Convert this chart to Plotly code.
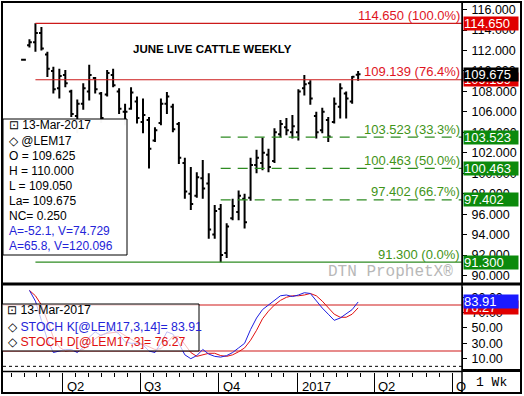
import plotly.graph_objects as go
import pandas as pd

# ---------------- data ----------------
opens = [111.10, 112.50, 112.80, 113.70, 111.60, 110.00, 108.30, 109.60, 108.00, 105.60,
         106.80, 108.00, 109.30, 107.80, 107.70, 109.60, 108.00, 106.00, 106.30, 107.00,
         105.00, 105.20, 103.20, 104.90, 106.80, 106.50, 104.80, 101.00, 98.00, 97.80,
         99.50, 99.00, 94.00, 96.50, 92.20, 95.60, 96.20, 97.50, 97.60, 100.80,
         101.00, 101.80, 101.20, 103.80, 104.50, 104.00, 104.00, 108.30, 108.80, 105.60,
         104.20, 105.20, 105.00, 106.50, 107.80, 107.00, 109.625]
highs = [111.10, 113.10, 114.65, 114.30, 111.87, 110.40, 110.20, 110.10, 108.16, 107.20,
         108.80, 110.60, 109.40, 107.95, 110.10, 110.20, 108.30, 106.80, 108.40, 107.50,
         107.30, 105.50, 104.50, 107.30, 107.95, 106.80, 105.00, 101.50, 100.60, 100.10,
         101.30, 100.00, 96.90, 97.00, 95.10, 97.50, 98.30, 98.00, 101.50, 102.30,
         103.50, 102.40, 104.40, 105.20, 105.40, 105.70, 108.20, 109.60, 109.10, 106.00,
         106.40, 105.50, 107.40, 108.80, 108.00, 109.50, 110.00]
lows = [111.10, 112.30, 111.87, 112.00, 109.40, 107.80, 107.30, 108.40, 105.50, 103.90,
        106.20, 107.10, 107.80, 104.90, 107.50, 108.40, 105.80, 104.70, 106.20, 104.85,
        103.90, 100.45, 103.05, 104.70, 105.80, 104.00, 100.90, 97.50, 96.40, 97.60,
        97.50, 93.60, 93.60, 91.30, 91.70, 95.40, 95.40, 94.60, 97.30, 100.00,
        100.30, 100.10, 101.00, 103.50, 103.70, 103.40, 103.20, 107.60, 106.70, 103.40,
        103.90, 103.05, 104.85, 105.35, 105.35, 106.80, 109.05]
closes = [111.10, 112.80, 113.70, 112.20, 110.20, 108.20, 109.50, 108.80, 105.80, 106.80,
          108.30, 109.60, 108.20, 105.40, 109.80, 108.60, 106.30, 106.00, 107.90, 105.40,
          105.70, 102.40, 104.20, 106.80, 107.50, 104.30, 101.50, 98.20, 97.00, 99.60,
          98.50, 94.50, 96.30, 92.00, 94.80, 96.80, 97.80, 95.20, 100.80, 101.50,
          102.00, 100.60, 104.00, 104.80, 104.20, 104.60, 108.00, 108.70, 107.30, 104.00,
          106.00, 103.60, 106.80, 108.30, 107.30, 109.425, 109.675]

stoch_k = [None, 99, 85, 60, 35, 18, 20, 22, 22, 18,
           25, 38, 45, 40, 44, 48, 42, 32, 30, 30,
           28, 20, 18, 30, 45, 42, 30, 15, 10, 14,
           22, 16, 13, 12, 14, 18, 24, 30, 48, 63,
           74, 80, 85, 92, 93, 91, 93, 96, 95, 85,
           76, 68, 60, 63, 68, 74, 83.91]
stoch_d = [None, 99, 92, 80, 60, 38, 25, 20, 21, 20,
           22, 28, 36, 41, 43, 44, 45, 40, 35, 31,
           29, 26, 22, 23, 31, 39, 39, 29, 18, 13,
           15, 17, 17, 14, 13, 15, 19, 24, 34, 47,
           62, 72, 80, 86, 90, 92, 92, 93, 95, 92,
           85, 76, 68, 64, 64, 68, 76.27]

last_date = "2017-03-13"
dates = pd.date_range(end=last_date, periods=len(closes), freq="7D")

fib_levels = [114.650, 109.139, 103.523, 100.463, 97.402, 91.300]
fib_pcts = ["100.0%", "76.4%", "33.3%", "50.0%", "66.7%", "0.0%"]
fib_from_high = [True, True, False, False, False, True]
high_idx = 2
low_idx = 33

price_ticks = [90, 92, 94, 96, 98, 100, 102, 104, 106, 108, 110, 112, 114, 116]
stoch_ticks = [10, 30, 50, 70, 90]
stoch_bands = [80, 20]

quarter_dates = ["2016-04-01", "2016-07-01", "2016-10-01", "2017-01-01", "2017-04-01", "2017-07-01"]
quarter_labels = ["Q2", "Q3", "Q4", "2017", "Q2", "Q"]

info_lines = ["⊡ 13-Mar-2017", "◇ @LEM17", "O = 109.625", "H = 110.000", "L = 109.050",
              "La= 109.675", "NC= 0.250"]
info_blue = ["A=-52.1, V=74.729", "A=65.8, V=120.096"]
last_price = 109.675

# ---------------- layout geometry ----------------
W, H = 524, 396
PL, PR, PT, PB = 3, 462, 3, 372
x_start = "2016-01-22"
x_end = "2017-07-12 16:00"

def px(v):
    return (v - PL) / (PR - PL)

def py(v):
    return (PB - v) / (PB - PT)

FONT = "Liberation Sans, Arial, sans-serif"
MONO = "Liberation Mono, Courier New, monospace"
RED_LINE = "#cc1a1a"
RED_TXT = "#e0141e"
GREEN_LINE = "#2e8b22"
GREEN_TXT = "#3f9418"
GREEN_TAG = "#0c8a0c"
BLUE = "#2424d8"

fig = go.Figure()

fig.add_trace(go.Ohlc(
    x=dates, open=opens, high=highs, low=lows, close=closes,
    increasing=dict(line=dict(color="black", width=2)),
    decreasing=dict(line=dict(color="black", width=2)),
    tickwidth=0.4, xaxis="x", yaxis="y", hoverinfo="skip", showlegend=False,
))

for lvl, from_high in zip(fib_levels, fib_from_high):
    color = RED_LINE if lvl >= 109 else GREEN_LINE
    dash = "solid" if from_high else "10px,7px"
    start = dates[high_idx] if from_high else dates[low_idx]
    fig.add_trace(go.Scatter(
        x=[start, x_end], y=[lvl, lvl], mode="lines",
        line=dict(color=color, width=1.2, dash=dash),
        xaxis="x", yaxis="y", hoverinfo="skip", showlegend=False,
    ))

for lvl in stoch_bands:
    fig.add_trace(go.Scatter(
        x=[x_start, x_end], y=[lvl, lvl], mode="lines",
        line=dict(color="#d01818", width=1.2),
        xaxis="x", yaxis="y2", hoverinfo="skip", showlegend=False,
    ))
fig.add_trace(go.Scatter(
    x=[x_start, x_end], y=[0, 0], mode="lines",
    line=dict(color="black", width=1, dash="3px,3px"),
    xaxis="x", yaxis="y2", hoverinfo="skip", showlegend=False,
))
fig.add_trace(go.Scatter(
    x=dates, y=stoch_d, mode="lines", line=dict(color="#e01010", width=1),
    xaxis="x", yaxis="y2", hoverinfo="skip", showlegend=False,
))
fig.add_trace(go.Scatter(
    x=dates, y=stoch_k, mode="lines", line=dict(color="#1e1ee0", width=1),
    xaxis="x", yaxis="y2", hoverinfo="skip", showlegend=False,
))

minor_vals = []
for m in pd.date_range("2016-01-01", "2017-08-01", freq="MS"):
    for d in (m, m + pd.Timedelta(days=15)):
        s = d.strftime("%Y-%m-%d")
        if s not in quarter_dates:
            minor_vals.append(s)

fig.update_layout(
    width=W, height=H,
    margin=dict(l=PL, r=W - PR, t=PT, b=H - PB),
    paper_bgcolor="white", plot_bgcolor="white",
    font=dict(family=FONT, color="black", size=12),
    showlegend=False,
    xaxis=dict(
        type="date", range=[x_start, x_end], anchor="y2",
        showgrid=False, zeroline=False, showline=False,
        tickmode="array", tickvals=quarter_dates, ticktext=["" for _ in quarter_dates],
        ticks="outside", ticklen=20, tickcolor="black", tickwidth=1,
        minor=dict(tickmode="array", tickvals=minor_vals, ticks="outside",
                   ticklen=4, tickcolor="black", tickwidth=1, showgrid=False),
        rangeslider=dict(visible=False), fixedrange=True,
    ),
    yaxis=dict(
        domain=[py(284.5), 1], range=[89.12, 116.64], side="right", anchor="x",
        showgrid=False, zeroline=False, showline=True, linecolor="black", linewidth=1,
        tickmode="array", tickvals=price_ticks,
        ticktext=[f"{v:.3f}" for v in price_ticks],
        ticks="outside", ticklen=4, tickcolor="black",
        tickfont=dict(size=12.5, family=FONT), ticklabelstandoff=2,
    ),
    yaxis2=dict(
        domain=[0, py(286.5)], range=[-7.4, 104.1], side="right", anchor="x",
        showgrid=False, zeroline=False, showline=True, linecolor="black", linewidth=1,
        tickmode="array", tickvals=stoch_ticks,
        ticktext=[f"{v:.2f}" for v in stoch_ticks],
        ticks="outside", ticklen=4, tickcolor="black",
        tickfont=dict(size=12.5, family=FONT), ticklabelstandoff=2,
    ),
)

shapes = []
def pline(x0, y0, x1, y1, width=1, color="black"):
    shapes.append(dict(type="line", xref="paper", yref="paper",
                       x0=px(x0), y0=py(y0), x1=px(x1), y1=py(y1),
                       line=dict(color=color, width=width)))

def prect(x0, y0, x1, y1, fill):
    shapes.append(dict(type="rect", xref="paper", yref="paper", layer="above",
                       x0=px(x0), y0=py(y1), x1=px(x1), y1=py(y0),
                       fillcolor=fill, line=dict(color="black", width=1)))

shapes.append(dict(type="rect", xref="paper", yref="paper",
                   x0=px(2), x1=px(521), y0=py(393), y1=py(2),
                   line=dict(color="black", width=2)))
pline(462, 2, 462, 393, 1.5)
pline(2, 284, 521, 284, 3)
pline(2, 371.5, 462, 371.5, 1.5)
pline(462, 370.5, 521, 370.5, 3)
prect(3, 119, 127, 255, "rgba(255,255,255,0.97)")
prect(2, 304, 199, 351, "rgba(255,255,255,0.72)")
fig.update_layout(shapes=shapes)

ann = []
def ptext(text, x, y, size=12, color="black", anchor="left", family=FONT):
    ann.append(dict(text=text, xref="paper", yref="paper", x=px(x), y=py(y),
                    xanchor=anchor, yanchor="middle", showarrow=False,
                    font=dict(size=size, family=family, color=color)))

ptext("<b>JUNE LIVE CATTLE WEEKLY</b>", 212, 49, size=11.5, anchor="center")
ptext("DTN ProphetX®", 390, 272, size=16, color="#b8b8b8", anchor="center", family=MONO)

for lvl, pct in zip(fib_levels, fib_pcts):
    col = RED_TXT if lvl >= 109 else GREEN_TXT
    ann.append(dict(text=f"{lvl:.3f} ({pct})", xref="paper", yref="y",
                    x=px(462), y=lvl, xanchor="right", yanchor="middle", yshift=8,
                    showarrow=False, font=dict(size=13, family=FONT, color=col)))

def tag(text, y, yref, bg):
    ann.append(dict(text=text, xref="paper", yref=yref, x=1, xshift=1, y=y,
                    xanchor="left", yanchor="middle", showarrow=False,
                    bgcolor=bg, width=54, height=13, align="left", borderpad=0,
                    font=dict(size=13, family=FONT, color="white")))

for lvl in fib_levels:
    tag(f"{lvl:.3f}", lvl, "y", "#e00000" if lvl >= 109 else GREEN_TAG)
tag(f"{last_price:.3f}", last_price, "y", "black")
tag(f"{stoch_d[-1]:.2f}", stoch_d[-1], "y2", "#e00000")
tag(f"{stoch_k[-1]:.2f}", stoch_k[-1], "y2", "#1a1aff")

for k, line in enumerate(info_lines + info_blue):
    col = BLUE if line in info_blue else "black"
    ptext(line, 7, 125.5 + 15 * k, size=12, color=col)

ptext("⊡ 13-Mar-2017", 5, 310, size=12.3)
ptext(f"◇ <span style='color:{BLUE}'>STOCH K[@LEM17,3,14]= {stoch_k[-1]:.2f}</span>",
      6, 326.5, size=12.3)
ptext(f"◇ <span style='color:#e01010'>STOCH D[@LEM17,3]= {stoch_d[-1]:.2f}</span>",
      6, 342, size=12.3)

for d, lab in zip(quarter_dates, quarter_labels):
    ann.append(dict(text=lab, xref="x", yref="paper", x=d, xshift=2, y=py(386),
                    xanchor="left", yanchor="middle", showarrow=False,
                    font=dict(size=13, family=FONT, color="black")))
ann.append(dict(text="1 Wk", xref="paper", yref="paper", x=px(491), y=py(382),
                xanchor="center", yanchor="middle", showarrow=False, bgcolor="white",
                font=dict(size=13, family=MONO, color="black")))
fig.update_layout(annotations=ann)

fig.write_html("out.html", config={"displayModeBar": False},
               post_script="document.body.style.margin='0px';")
